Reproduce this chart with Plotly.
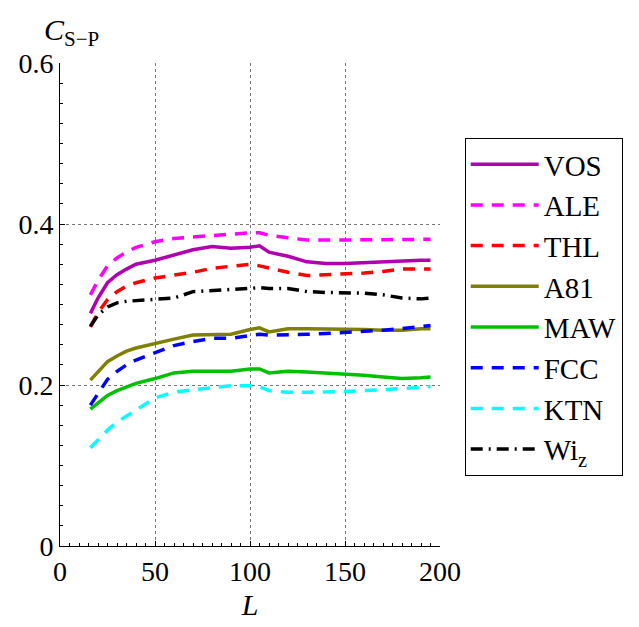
import plotly.graph_objects as go

L = [16, 20, 25, 30, 35, 40, 50, 60, 70, 80, 90, 100, 105, 110, 120, 130, 140, 150, 160, 170, 180, 190, 195]

VOS = [0.289, 0.308, 0.327, 0.337, 0.344, 0.350, 0.355, 0.361, 0.368, 0.372, 0.370, 0.371, 0.373, 0.365, 0.360, 0.353, 0.351, 0.351, 0.352, 0.353, 0.355, 0.355, 0.355]
ALE = [0.312, 0.330, 0.348, 0.358, 0.365, 0.371, 0.378, 0.382, 0.384, 0.386, 0.387, 0.389, 0.389, 0.386, 0.383, 0.380, 0.380, 0.380, 0.380, 0.381, 0.381, 0.381, 0.381]
THL = [0.272, 0.290, 0.306, 0.316, 0.323, 0.327, 0.333, 0.336, 0.340, 0.345, 0.348, 0.350, 0.348, 0.345, 0.340, 0.336, 0.337, 0.337, 0.339, 0.341, 0.344, 0.344, 0.344]
A81 = [0.206, 0.216, 0.229, 0.236, 0.242, 0.246, 0.252, 0.257, 0.262, 0.263, 0.263, 0.269, 0.271, 0.266, 0.270, 0.270, 0.270, 0.270, 0.269, 0.268, 0.268, 0.270, 0.270]
MAW = [0.170, 0.177, 0.187, 0.193, 0.198, 0.202, 0.208, 0.215, 0.217, 0.217, 0.217, 0.220, 0.220, 0.215, 0.217, 0.216, 0.215, 0.213, 0.212, 0.210, 0.208, 0.209, 0.210]
FCC = [0.175, 0.190, 0.207, 0.217, 0.225, 0.231, 0.240, 0.249, 0.254, 0.258, 0.258, 0.262, 0.263, 0.262, 0.262, 0.263, 0.264, 0.265, 0.267, 0.268, 0.270, 0.273, 0.274]
KTN = [0.122, 0.132, 0.144, 0.154, 0.162, 0.169, 0.184, 0.191, 0.194, 0.197, 0.199, 0.199, 0.198, 0.193, 0.191, 0.191, 0.191, 0.192, 0.193, 0.194, 0.196, 0.197, 0.198]
WIZ = [0.273, 0.287, 0.297, 0.302, 0.304, 0.305, 0.306, 0.308, 0.316, 0.317, 0.318, 0.320, 0.321, 0.320, 0.320, 0.316, 0.315, 0.315, 0.314, 0.312, 0.308, 0.307, 0.308]

series = [
    ("VOS", VOS, "#b000b0", "solid"),
    ("ALE", ALE, "#ff00ff", "12px,9px"),
    ("THL", THL, "#ff0000", "12px,9px"),
    ("A81", A81, "#808000", "solid"),
    ("MAW", MAW, "#00c000", "solid"),
    ("FCC", FCC, "#0000ff", "12px,9px"),
    ("KTN", KTN, "#00ffff", "12px,9px"),
    ("Wi<sub>z</sub>", WIZ, "#000000", "12px,6px,2px,6px"),
]

FONT = "Liberation Serif"

fig = go.Figure()
for name, vals, color, dash in series:
    fig.add_trace(go.Scatter(x=L, y=vals, mode="lines", name=name,
                             line=dict(color=color, width=3.5, dash=dash)))

fig.update_layout(
    width=639, height=627,
    margin=dict(l=52, r=207, t=55, b=89),
    paper_bgcolor="white", plot_bgcolor="white",
    font=dict(family=FONT, size=28, color="black"),
    showlegend=True,
    legend=dict(x=1.065, y=0.845, xanchor="left", yanchor="top",
                bordercolor="black", borderwidth=1, bgcolor="white",
                font=dict(family=FONT, size=29, color="black"),
                itemwidth=68, tracegroupgap=0),
    xaxis=dict(range=[0, 200], tickvals=[0, 50, 100, 150, 200], automargin=False,
               tickfont=dict(family=FONT, size=28),
               showgrid=True, gridcolor="#777777", griddash="dot", gridwidth=1,
               showline=True, linecolor="black", linewidth=1,
               ticks="inside", ticklen=5, tickcolor="black",
               minor=dict(ticks="inside", ticklen=3, dtick=5, tickcolor="black"),
               zeroline=False,
               title=dict(text="<i>L</i>", font=dict(family=FONT, size=30), standoff=8)),
    yaxis=dict(range=[0, 0.6], tickvals=[0, 0.2, 0.4, 0.6], ticktext=["0", "0.2", "0.4", "0.6"],
               automargin=False, tickfont=dict(family=FONT, size=28),
               showgrid=True, gridcolor="#777777", griddash="dot", gridwidth=1,
               showline=True, linecolor="black", linewidth=1,
               ticks="inside", ticklen=5, tickcolor="black",
               minor=dict(ticks="inside", ticklen=3, dtick=0.025, tickcolor="black"),
               zeroline=False),
)

fig.add_annotation(text="<i>C</i><sub>S−P</sub>", xref="paper", yref="paper",
                   x=0.03, y=1.0, xanchor="center", yanchor="bottom", yshift=10,
                   showarrow=False, font=dict(family=FONT, size=30, color="black"))

fig.write_html("out.html")
